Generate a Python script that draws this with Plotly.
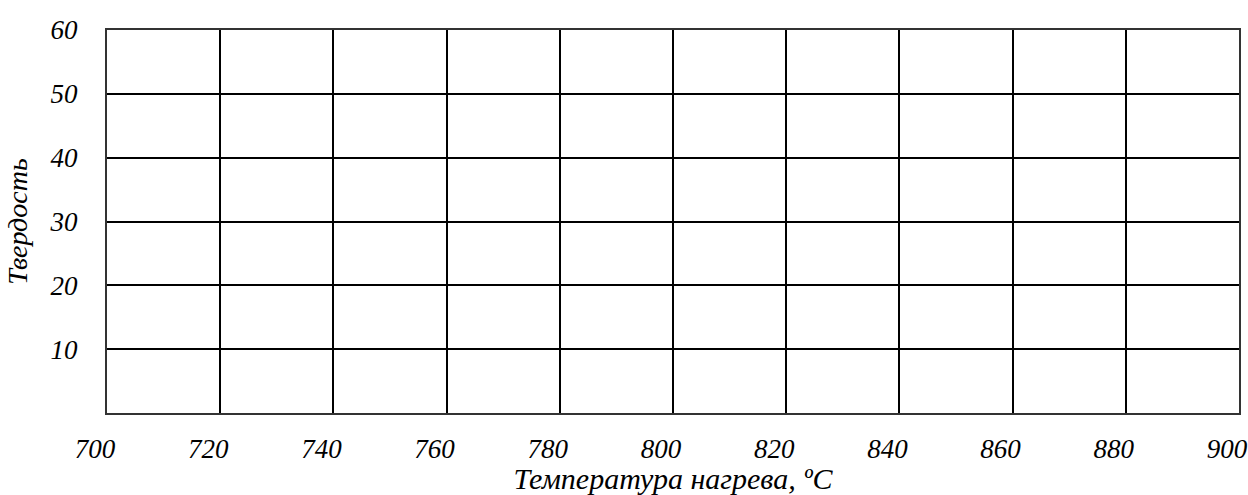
import plotly.graph_objects as go

# axis data
x_ticks = [700, 720, 740, 760, 780, 800, 820, 840, 860, 880, 900]
y_ticks = [10, 20, 30, 40, 50, 60]
x_range = [700, 900]
y_range = [0, 60]

tick_font = dict(family='Liberation Serif', size=27, color='black', style='italic')
xtitle_font = dict(family='Liberation Serif', size=30, color='black', style='italic')
ytitle_font = dict(family='Liberation Serif', size=28, color='black', style='italic')

xaxis = dict(
    title=dict(text='Температура нагрева, ºC', font=xtitle_font, standoff=0),
    range=x_range,
    tickvals=x_ticks,
    ticktext=[str(v) for v in x_ticks],
    tickfont=tick_font,
    ticklabelstandoff=11,
    ticklabelshift=-12,
    ticklabeloverflow='allow',
    showgrid=True,
    gridcolor='black',
    gridwidth=1.5,
    zeroline=False,
    showline=True,
    linecolor='#333333',
    linewidth=2,
    mirror=True,
    ticks='',
)

yaxis = dict(
    title=dict(text='Твердость', font=ytitle_font, standoff=14),
    range=y_range,
    tickvals=y_ticks,
    ticktext=[str(v) for v in y_ticks],
    tickfont=tick_font,
    ticklabelstandoff=22,
    showgrid=True,
    gridcolor='black',
    gridwidth=1.5,
    zeroline=False,
    showline=True,
    linecolor='#333333',
    linewidth=2,
    mirror=True,
    ticks='',
)

fig = go.Figure()
fig.add_trace(go.Scatter(x=[], y=[], mode='lines', showlegend=False))

fig.update_layout(
    xaxis=xaxis,
    yaxis=yaxis,
    plot_bgcolor='white',
    paper_bgcolor='white',
    width=1248,
    height=495,
    margin=dict(l=107, r=0, t=30, b=82),
    showlegend=False,
)

# drop the default body margin so the figure fills the window exactly
fig.write_html('out.html', config={'displayModeBar': False},
               post_script="document.body.style.margin='0';")
